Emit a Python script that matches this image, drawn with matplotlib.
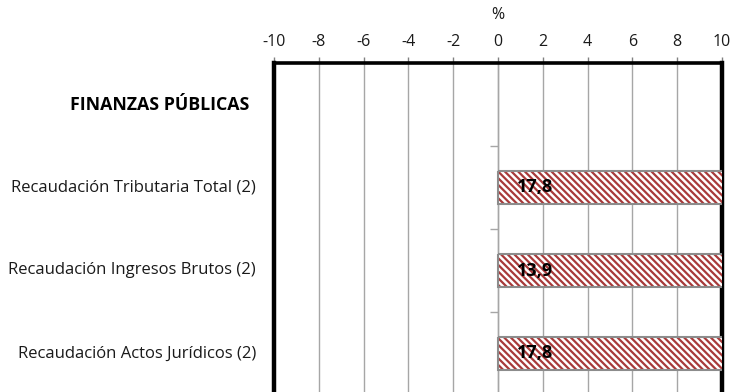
import matplotlib
matplotlib.use("Agg")
import matplotlib.pyplot as plt
from matplotlib.transforms import blended_transform_factory

categories = ["FINANZAS PÚBLICAS", "Recaudación Tributaria Total (2)",
              "Recaudación Ingresos Brutos (2)", "Recaudación Actos Jurídicos (2)"]
values = [None, 17.8, 13.9, 17.8]
value_labels = ["", "17,8", "13,9", "17,8"]
xticks = [-10, -8, -6, -4, -2, 0, 2, 4, 6, 8, 10]

plt.rcParams['font.family'] = ['Open Sans', 'DejaVu Sans']
plt.rcParams['hatch.linewidth'] = 1.6
plt.rcParams['axes.unicode_minus'] = False

W, H = 737, 392
fig = plt.figure(figsize=(W/100, H/100), dpi=100)
top_px, bot_px = 63, 478
ax = fig.add_axes([274/W, 1 - bot_px/H, 448/W, (bot_px - top_px)/H])

ax.set_xlim(-10, 10)
ax.set_ylim(4.5, -0.5)

ys = list(range(len(categories)))
for y, v in zip(ys, values):
    if v is None:
        continue
    ax.barh(y, v, height=0.4, left=0, facecolor='white', edgecolor='#A83A3A',
            hatch='\\\\\\\\\\', linewidth=0, zorder=3, clip_on=True)
    ax.barh(y, v, height=0.4, left=0, facecolor='none', edgecolor='#8C8C8C',
            linewidth=1.5, zorder=4, clip_on=True)

for y, lab in zip(ys, value_labels):
    if lab:
        ax.text(0.85, y, lab, ha='left', va='center', fontsize=13,
                fontweight='bold', color='black', zorder=5)

trans = blended_transform_factory(ax.transAxes, ax.transData)
for y, cat in zip(ys, categories):
    if y == 0:
        ax.text(-0.054, y, cat, transform=trans, ha='right', va='center',
                fontsize=12.8, fontweight='bold', color='black')
    else:
        ax.text(-0.04, y, cat, transform=trans, ha='right', va='center',
                fontsize=12, color='#1a1a1a')

# gridlines
ax.set_xticks(xticks)
ax.grid(axis='x', color='#A6A6A6', linewidth=1.0, zorder=1)
ax.set_axisbelow(True)

# x axis on top
ax.xaxis.tick_top()
ax.xaxis.set_label_position('top')
ax.tick_params(axis='x', which='major', direction='out', length=4, width=1,
               color='#808080', labelsize=11.5, pad=5, labelcolor='#1a1a1a')
ax.set_xlabel('%', fontsize=11.5, labelpad=11, color='#1a1a1a')

# zero axis with category separators
ax.spines['bottom'].set_visible(False)
ax.spines['left'].set_position(('data', 0))
ax.spines['left'].set_color('#A6A6A6')
ax.spines['left'].set_linewidth(1.0)
ax.set_yticks([])
ax.set_yticks([0.5, 1.5, 2.5, 3.5], minor=True)
ax.tick_params(axis='y', which='minor', direction='out', length=6, width=1,
               color='#A6A6A6', labelleft=False)
ax.spines['top'].set_linewidth(2.6)
ax.spines['top'].set_color('black')
ax.spines['right'].set_linewidth(3.2)
ax.spines['right'].set_color('black')
ax.axvline(-10, color='black', linewidth=3.2, zorder=6, clip_on=False)

fig.savefig('out.png', dpi=100)
